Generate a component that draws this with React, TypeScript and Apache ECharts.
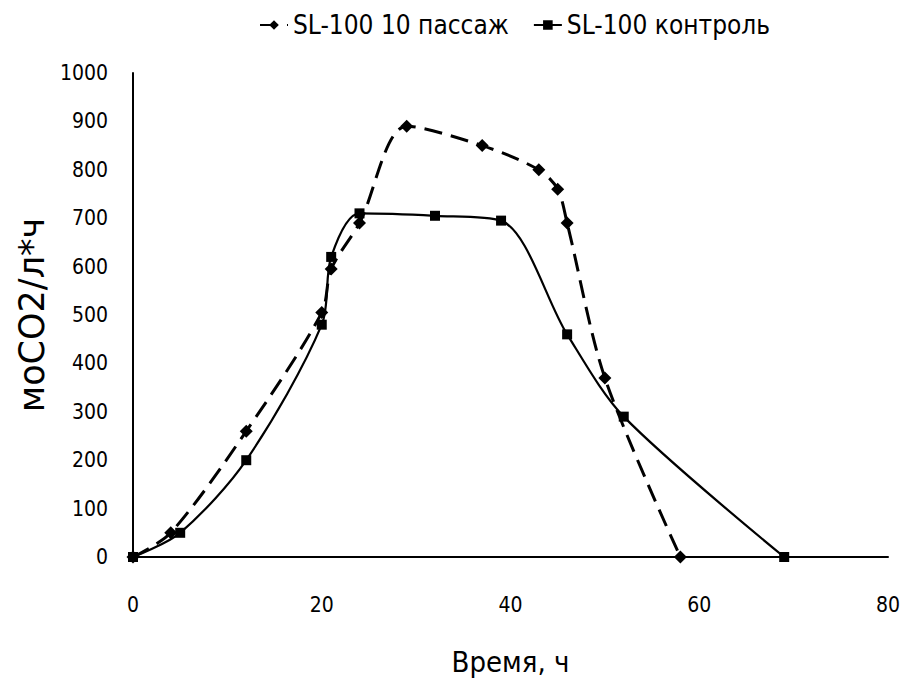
import React, { useEffect, useRef } from "react";
import * as echarts from "echarts";

const passageX = [0, 4, 12, 20, 21, 24, 29, 37, 43, 45, 46, 50, 58];
const passageY = [0, 50, 260, 505, 595, 690, 890, 850, 800, 760, 690, 370, 0];
const controlX = [0, 5, 12, 20, 21, 24, 32, 39, 46, 52, 69];
const controlY = [0, 50, 200, 480, 620, 710, 705, 695, 460, 290, 0];
const seriesNames = ["SL-100 10 пассаж", "SL-100 контроль"];
const xTitle = "Время, ч";
const yTitle = "моСО2/л*ч";

const FONT = "'DejaVu Sans Condensed', 'Liberation Sans Narrow', 'Open Sans', sans-serif";
const WIDE = "'DejaVu Sans', 'Open Sans', sans-serif";

export default function App() {
  const ref = useRef<HTMLDivElement>(null);
  useEffect(() => {
    if (!ref.current) return;
    const chart = echarts.init(ref.current, null, { renderer: "svg" });
    const zip = (xs: number[], ys: number[]) => xs.map((x, i) => [x, ys[i]]);
    chart.setOption({
      animation: false,
      backgroundColor: "#ffffff",
      textStyle: { fontFamily: FONT, color: "#000" },
      legend: {
        top: 7,
        left: 254,
        itemWidth: 28,
        itemHeight: 12,
        itemGap: 24,
        textStyle: { fontFamily: FONT, fontSize: 26, color: "#000" },
        data: seriesNames,
      },
      grid: { left: 133, right: 26, top: 73, bottom: 127 },
      xAxis: {
        type: "value",
        min: 0,
        max: 80,
        interval: 20,
        name: xTitle,
        nameLocation: "middle",
        nameGap: 90,
        nameTextStyle: { fontFamily: FONT, fontSize: 29, color: "#000" },
        axisLine: { lineStyle: { color: "#000", width: 2 } },
        axisTick: { show: false },
        splitLine: { show: false },
        axisLabel: { fontFamily: FONT, fontSize: 21, color: "#000", margin: 37 },
      },
      yAxis: {
        type: "value",
        min: 0,
        max: 1000,
        interval: 100,
        name: yTitle,
        nameLocation: "middle",
        nameGap: 80,
        nameRotate: 90,
        nameTextStyle: { fontFamily: WIDE, fontSize: 35, color: "#000" },
        axisLine: { show: true, lineStyle: { color: "#000", width: 2 } },
        axisTick: { show: false },
        splitLine: { show: false },
        axisLabel: {
          fontFamily: FONT,
          fontSize: 21,
          color: "#000",
          margin: 25,
          formatter: (v: number) => String(v),
        },
      },
      series: [
        {
          name: seriesNames[0],
          type: "line",
          smooth: 0.3,
          data: zip(passageX, passageY),
          symbol: "diamond",
          symbolSize: 13,
          itemStyle: { color: "#000" },
          lineStyle: { color: "#000", width: 3, type: [18, 9] },
        },
        {
          name: seriesNames[1],
          type: "line",
          smooth: 0.3,
          data: zip(controlX, controlY),
          symbol: "rect",
          symbolSize: 10,
          itemStyle: { color: "#000" },
          lineStyle: { color: "#000", width: 2.2 },
        },
      ],
    });
    return () => chart.dispose();
  }, []);
  return (
    <div
      ref={ref}
      style={{ position: "fixed", left: 0, top: 0, width: 914, height: 684 }}
    />
  );
}
